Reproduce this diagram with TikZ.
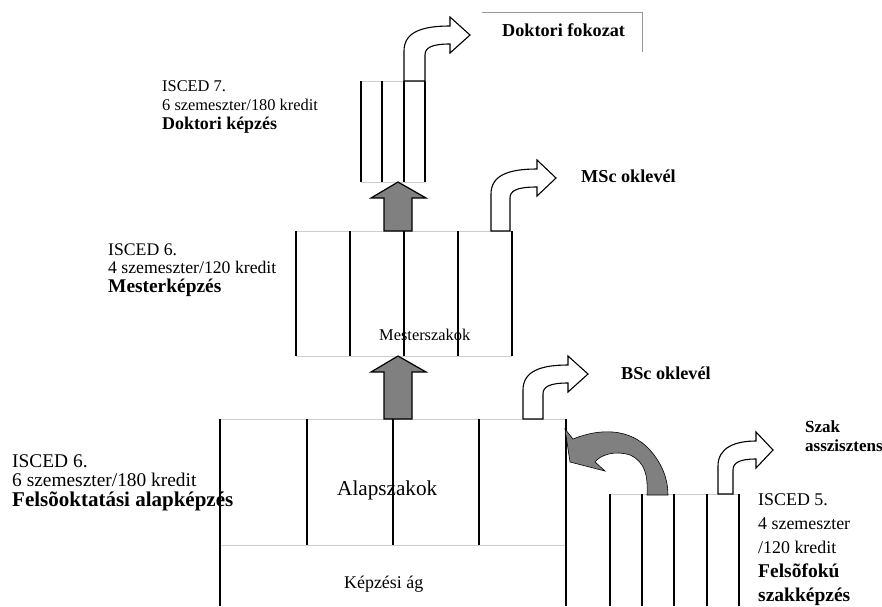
\documentclass[tikz,border=0pt]{standalone}
\usepackage{fontspec}
\setmainfont{Liberation Serif}

\definecolor{arrowgrey}{RGB}{128,128,128}
\definecolor{edgegrey}{RGB}{205,205,205}
\definecolor{framegrey}{RGB}{150,150,150}

\begin{document}
\begin{tikzpicture}[x=1pt, y=-1pt,
    txt/.style={anchor=base west, inner sep=0pt},
    lvlseven/.style={txt, font=\fontsize{16.4}{19}\selectfont},
    lvlsix/.style={txt, font=\fontsize{17.7}{19}\selectfont},
    lvlbase/.style={txt, font=\fontsize{19.4}{20}\selectfont},
    lvlfive/.style={txt, font=\fontsize{17.9}{20}\selectfont},
    degree/.style={txt, font=\fontsize{18.2}{20}\selectfont\bfseries},
    bar/.style={line width=1.5pt},
    rim/.style={edgegrey, line width=0.8pt},
    uparrow/.style={fill=arrowgrey, draw=black, line width=1.2pt, line join=miter},
    bentarrow/.style={fill=white, draw=black, line width=1.1pt, line join=miter}]
  \useasboundingbox (0,0) rectangle (882,606);

  % szintek leirasa
  \node[lvlseven] (d1) at (162,91) {ISCED 7.};
  \node[lvlseven] (d2) at (162,110) {6 szemeszter/180 kredit};
  \node[lvlseven, font=\fontsize{17.9}{19}\selectfont\bfseries] (d3) at (162,129) {Doktori képzés};

  \node[lvlsix] (m1) at (108,255) {ISCED 6.};
  \node[lvlsix] (m2) at (108,273.5) {4 szemeszter/120 kredit};
  \node[lvlsix, font=\fontsize{19.4}{19}\selectfont\bfseries] (m3) at (108,292) {Mesterképzés};

  \node[lvlbase] (b1) at (12,467) {ISCED 6.};
  \node[lvlbase] (b2) at (12,486.5) {6 szemeszter/180 kredit};
  \node[lvlbase, font=\fontsize{21}{20}\selectfont\bfseries] (b3) at (12,506) {Felsõoktatási alapképzés};

  \node[lvlfive] (f1) at (758,505) {ISCED 5.};
  \node[lvlfive] (f2) at (758,529) {4 szemeszter};
  \node[lvlfive] (f3) at (758,553) {/120 kredit};
  \node[lvlfive, font=\fontsize{19.5}{20}\selectfont\bfseries] (f4) at (758,577) {Felsõfokú};
  \node[lvlfive, font=\fontsize{19.5}{20}\selectfont\bfseries] (f5) at (758,601) {szakképzés};

  % kimenetek
  \node[degree] (phd) at (502,36) {Doktori fokozat};
  \node[degree] (msc) at (581,182) {MSc oklevél};
  \node[degree] (bsc) at (621,379) {BSc oklevél};
  \node[degree, font=\fontsize{17}{19}\selectfont\bfseries] (sz1) at (805,432) {Szak};
  \node[degree, font=\fontsize{17}{19}\selectfont\bfseries] (sz2) at (805,451) {asszisztens};
  \draw[framegrey, line width=0.8pt] (482,12) -- (642,12) -- (642,52);

  % blokkok szovege
  \node[txt, font=\fontsize{16.4}{18}\selectfont] (mszak) at (379,340) {Mesterszakok};
  \node[txt, font=\fontsize{21.2}{24}\selectfont] (aszak) at (337,495) {Alapszakok};
  \node[txt, font=\fontsize{17.9}{20}\selectfont] (kag) at (344,588) {Képzési ág};

  % doktori blokk
  \draw[rim] (361,81) -- (425,81);
  \draw[rim] (361,182) -- (425,182);
  \foreach \x in {361,382,404,425}
    \draw[bar] (\x,81) -- (\x,182);

  % mester blokk
  \draw[rim] (296,231) -- (512,231);
  \draw[rim] (296,356) -- (512,356);
  \foreach \x in {296,350,404,458,512}
    \draw[bar] (\x,231) -- (\x,356);

  % alap blokk
  \draw[rim] (220,419) -- (566,419);
  \draw[rim] (220,545) -- (566,545);
  \foreach \x in {307,393,479}
    \draw[bar] (\x,419) -- (\x,545);
  \foreach \x in {220,566}
    \draw[bar] (\x,419) -- (\x,606);

  % szakkepzes blokk
  \draw[rim] (610,494) -- (739,494);
  \foreach \x in {610,642,674,707,739}
    \draw[bar] (\x,494) -- (\x,606);

  % felfele nyilak
  \draw[uparrow] (384,231) -- (384,198) -- (371,198) -- (398,182) -- (426,198) -- (412,198) -- (412,231) -- cycle;
  \draw[uparrow] (384,419) -- (384,372) -- (371,372) -- (398,356) -- (426,372) -- (412,372) -- (412,419) -- cycle;

  % kanyarodo nyilak
  \foreach \xl/\w/\yb/\xh/\ym/\xt in {404/21/81/450/35/470, 491/19/231/537/178/556,
      523/20/419/568/374/588, 718/15/494/756/450/773}
    \draw[bentarrow] (\xl,\yb) -- (\xl,\ym+16)
      .. controls (\xl,\ym-3) and (\xl+18,\ym-9) .. (\xh,\ym-9)
      -- (\xh,\ym-18) -- (\xt,\ym) -- (\xh,\ym+18) -- (\xh,\ym+9)
      .. controls (\xl+\w+6,\ym+9) and (\xl+\w,\ym+13) .. (\xl+\w,\ym+20)
      -- (\xl+\w,\yb) -- cycle;

  % visszafele nyil
  \draw[fill=arrowgrey, draw=black, line width=0.6pt]
    (565,429) -- (573,439)
    .. controls (600,428) and (630,428) .. (650,450)
    .. controls (663,465) and (668,480) .. (668,495)
    -- (647,495)
    .. controls (648,475) and (645,462) .. (630,455)
    .. controls (615,450) and (600,455) .. (595,462)
    -- (605,471) -- (570,462) -- cycle;
\end{tikzpicture}
\end{document}
